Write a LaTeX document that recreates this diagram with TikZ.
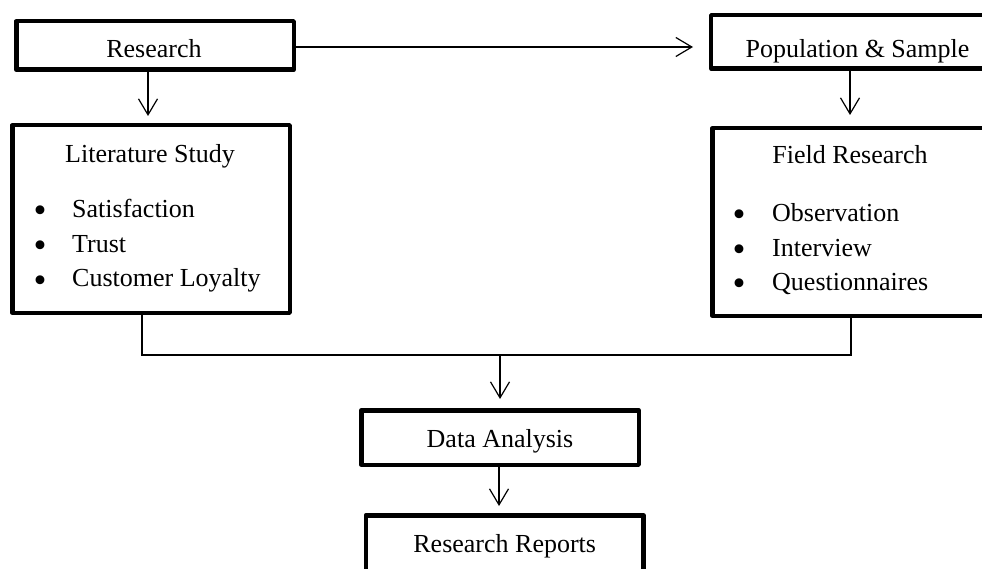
\documentclass[tikz,border=0pt]{standalone}
\usepackage{fontspec}
\setmainfont{Liberation Serif}
\usetikzlibrary{arrows.meta}
\begin{document}
\begin{tikzpicture}[x=1pt,y=-1pt,
  box/.style={draw, line width=4.5pt, line join=round, minimum width=277.5pt, inner sep=0pt},
  lbl/.style={anchor=base, inner sep=0pt, font=\fontsize{26}{35}\selectfont},
  bul/.style={anchor=base, inner sep=0pt, font=\fontsize{37}{40}\selectfont},
  itm/.style={anchor=base west, inner sep=0pt, font=\fontsize{26}{35}\selectfont},
  con/.style={draw, line width=1.2pt},
  arr/.style={con, -{Straight Barb[length=16pt,width=19pt,line width=1.2pt]}}]
\clip (0,0) rectangle (982,569);
\fill[white] (0,0) rectangle (982,569);
% boxes
\node[box, minimum height=48.5pt] (res) at (155,45.5) {};
\node[box, minimum height=187.5pt] (lit) at (151,219) {};
\node[box, minimum width=292.75pt, minimum height=53.5pt] (pop) at (857.6,42) {};
\node[box, minimum height=187.5pt] (fld) at (851,222) {};
\node[box, minimum height=54.5pt] (dat) at (500,437.5) {};
\node[box, minimum height=75pt] (rep) at (504.5,552.75) {};
% texts
\node[lbl] (resT) at (154,58) {Research};
\node[lbl] (popT) at (857.5,57.7) {Population \& Sample};
\node[lbl] (litT) at (150,163) {Literature Study};
\node[bul] (lb1) at (40,223) {\textbullet};
\node[bul] (lb2) at (40,258) {\textbullet};
\node[bul] (lb3) at (40,292) {\textbullet};
\node[itm] (li1) at (72,218) {Satisfaction};
\node[itm] (li2) at (72,253) {Trust};
\node[itm] (li3) at (72,287) {Customer Loyalty};
\node[lbl] (fldT) at (850,164) {Field Research};
\node[bul] (fb1) at (739,226.5) {\textbullet};
\node[bul] (fb2) at (739,261.5) {\textbullet};
\node[bul] (fb3) at (739,295.5) {\textbullet};
\node[itm] (fi1) at (772,221.5) {Observation};
\node[itm] (fi2) at (772,256.5) {Interview};
\node[itm] (fi3) at (772,290.5) {Questionnaires};
\node[lbl] (datT) at (500,447) {Data Analysis};
\node[lbl] (repT) at (504.7,552) {Research Reports};
% connectors
\coordinate (t1) at (148,116);
\draw[arr] (res.south -| t1) -- (t1);
\coordinate (t2) at (693,47);
\draw[arr] (res.east |- t2) -- (t2);
\coordinate (t3) at (850,115);
\draw[arr] (pop.south -| t3) -- (t3);
\coordinate (j1) at (142,355);
\coordinate (j2) at (851,355);
\draw[con] (lit.south -| j1) -- (j1) -- (j2) -- (fld.south -| j2);
\coordinate (m) at (500,355);
\coordinate (t4) at (500,399);
\draw[arr] (m) -- (t4);
\coordinate (t5) at (499,506);
\draw[arr] (dat.south -| t5) -- (t5);
\end{tikzpicture}
\end{document}
